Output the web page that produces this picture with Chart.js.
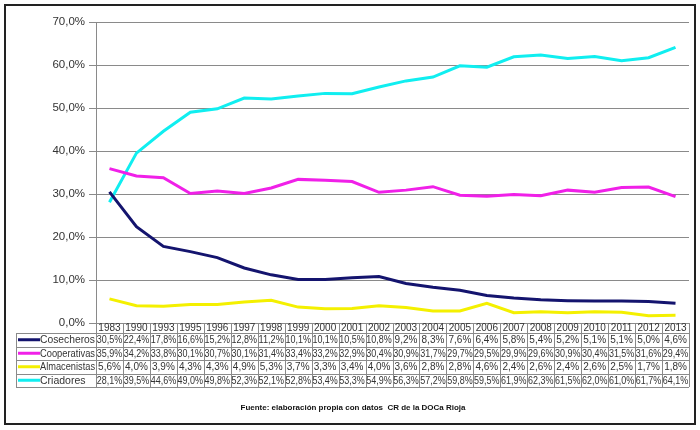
<!DOCTYPE html>
<html lang="es">
<head>
    <meta charset="UTF-8">
    <title>Evolución por tipo de operador</title>
    <script src="https://cdn.jsdelivr.net/npm/chart.js"></script>
    <style>
        body {
            margin: 0;
            padding: 0;
            background: #fff;
            font-family: "Liberation Sans", Arial, sans-serif;
        }
        #wrap {
            width: 700px;
            height: 430px;
            position: relative;
        }
    </style>
</head>
<body>
    <div id="wrap">
        <canvas id="lineChart" width="700" height="430"></canvas>
    </div>

    <script>
        // Data (percent)
        const years = ['1983', '1990', '1993', '1995', '1996', '1997', '1998', '1999', '2000', '2001', '2002', '2003',
                       '2004', '2005', '2006', '2007', '2008', '2009', '2010', '2011', '2012', '2013'];
        const seriesNames = ['Cosecheros', 'Cooperativas', 'Almacenistas', 'Criadores'];
        const seriesColors = ['#14146e', '#f020e8', '#f4f000', '#10eef0'];
        const cosecheros = [30.5, 22.4, 17.8, 16.6, 15.2, 12.8, 11.2, 10.1, 10.1, 10.5, 10.8, 9.2, 8.3, 7.6, 6.4, 5.8, 5.4, 5.2, 5.1, 5.1, 5.0, 4.6];
        const cooperativas = [35.9, 34.2, 33.8, 30.1, 30.7, 30.1, 31.4, 33.4, 33.2, 32.9, 30.4, 30.9, 31.7, 29.7, 29.5, 29.9, 29.6, 30.9, 30.4, 31.5, 31.6, 29.4];
        const almacenistas = [5.6, 4.0, 3.9, 4.3, 4.3, 4.9, 5.3, 3.7, 3.3, 3.4, 4.0, 3.6, 2.8, 2.8, 4.6, 2.4, 2.6, 2.4, 2.6, 2.5, 1.7, 1.8];
        const criadores = [28.1, 39.5, 44.6, 49.0, 49.8, 52.3, 52.1, 52.8, 53.4, 53.3, 54.9, 56.3, 57.2, 59.8, 59.5, 61.9, 62.3, 61.5, 62.0, 61.0, 61.7, 64.1];
        const seriesData = [cosecheros, cooperativas, almacenistas, criadores];
        const footnote = 'Fuente: elaboración propia con datos  CR de la DOCa Rioja';

        const fmt = v => v.toFixed(1).replace('.', ',') + '%';

        // Data table + frame drawn under the plot
        const tablePlugin = {
            id: 'dataTable',
            afterDraw(chart) {
                const ctx = chart.ctx;
                const area = chart.chartArea;
                const xs = chart.scales.x;
                const colW = (area.right - area.left) / years.length;
                const top = area.bottom;
                const rowH = 13.5;
                const yearRowBottom = top + 10;
                const tableLeft = 16;
                const tableBottom = yearRowBottom + rowH * 4;

                ctx.save();
                ctx.strokeStyle = '#8a8a8a';
                ctx.lineWidth = 1;

                // vertical lines of the year columns
                for (let i = 0; i <= years.length; i++) {
                    const x = Math.round(area.left + i * colW) + 0.5;
                    ctx.beginPath();
                    ctx.moveTo(x, top);
                    ctx.lineTo(x, tableBottom);
                    ctx.stroke();
                }
                // legend column left line
                ctx.beginPath();
                ctx.moveTo(tableLeft + 0.5, yearRowBottom);
                ctx.lineTo(tableLeft + 0.5, tableBottom);
                ctx.stroke();
                // horizontal lines
                for (let r = 0; r <= 4; r++) {
                    const y = Math.round(yearRowBottom + r * rowH) + 0.5;
                    ctx.beginPath();
                    ctx.moveTo(tableLeft, y);
                    ctx.lineTo(area.right, y);
                    ctx.stroke();
                }

                ctx.fillStyle = '#333';
                ctx.font = '10px "Liberation Sans", Arial, sans-serif';
                ctx.textAlign = 'center';
                ctx.textBaseline = 'middle';
                years.forEach((yr, i) => {
                    const cx = xs.getPixelForValue(i);
                    ctx.fillText(yr, cx, top + 5.5, colW - 4);
                    seriesData.forEach((arr, r) => {
                        ctx.fillText(fmt(arr[i]), cx, yearRowBottom + r * rowH + rowH / 2 + 0.5, colW - 1.5);
                    });
                });

                // legend keys
                ctx.textAlign = 'left';
                ctx.font = '10.5px "Liberation Sans", Arial, sans-serif';
                seriesNames.forEach((name, r) => {
                    const cy = yearRowBottom + r * rowH + rowH / 2;
                    ctx.strokeStyle = seriesColors[r];
                    ctx.lineWidth = 3;
                    ctx.beginPath();
                    ctx.moveTo(tableLeft + 2, cy);
                    ctx.lineTo(tableLeft + 24, cy);
                    ctx.stroke();
                    ctx.fillStyle = '#333';
                    ctx.fillText(name, tableLeft + 24, cy + 0.5, area.left - tableLeft - 25);
                });

                // source note
                ctx.font = 'bold 8px "Liberation Sans", Arial, sans-serif';
                ctx.textAlign = 'center';
                ctx.fillStyle = '#111';
                ctx.fillText(footnote, 353, 408, 225);

                // outer frame
                ctx.strokeStyle = '#222';
                ctx.lineWidth = 2;
                ctx.strokeRect(5, 5, 690, 419);
                ctx.restore();
            }
        };

        new Chart(document.getElementById('lineChart').getContext('2d'), {
            type: 'line',
            data: {
                labels: years,
                datasets: seriesNames.map((name, i) => ({
                    label: name,
                    data: seriesData[i],
                    borderColor: seriesColors[i],
                    backgroundColor: seriesColors[i],
                    borderWidth: 3,
                    pointRadius: 0,
                    tension: 0,
                    fill: false
                }))
            },
            options: {
                responsive: false,
                animation: false,
                layout: {
                    padding: { left: 0, top: 22, right: 11, bottom: 107 }
                },
                scales: {
                    x: {
                        display: false,
                        offset: true
                    },
                    y: {
                        min: 0,
                        max: 70,
                        afterFit: s => { s.width = 96; },
                        ticks: {
                            stepSize: 10,
                            padding: 4,
                            color: '#333',
                            font: { size: 11.5, family: '"Liberation Sans", Arial, sans-serif' },
                            callback: v => fmt(v)
                        },
                        grid: {
                            color: '#8a8a8a',
                            tickLength: 7,
                            drawTicks: true
                        },
                        border: { color: '#8a8a8a' }
                    }
                },
                plugins: {
                    legend: { display: false },
                    tooltip: { enabled: false }
                }
            },
            plugins: [tablePlugin]
        });
    </script>
</body>
</html>
